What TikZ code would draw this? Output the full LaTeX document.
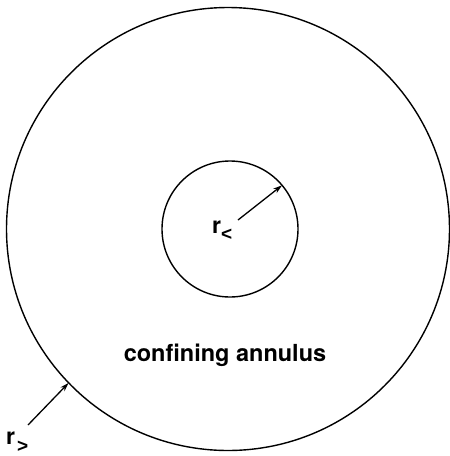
\documentclass[tikz,border=0pt]{standalone}
\usepackage{fontspec}
\setmainfont{TeX Gyre Heros}
\newfontfamily\relfont{Liberation Sans}
\usetikzlibrary{arrows.meta}

\begin{document}
\begin{tikzpicture}[x=1pt, y=-1pt, >={Stealth[length=9pt, width=5.5pt]}, line join=round,
    boundary/.style={draw, circle, line width=1.4pt, inner sep=0pt, outer sep=0pt},
    radiusarrow/.style={->, line width=1.3pt},
    rlabel/.style={inner sep=0pt, anchor=base west, font=\fontsize{23}{23}\selectfont\bfseries}]
    \useasboundingbox (0,0) rectangle (450,456);

    % --- Outer and inner boundaries of the annulus ---
    \node[boundary, minimum size=443pt] (outer) at (228,229) {};
    \node[boundary, minimum size=136pt] (inner) at (230,229) {};

    % --- Radius arrows ---
    \coordinate (rinstart) at (238,220);
    \draw[radiusarrow] (rinstart) -- (inner.40);
    \coordinate (routstart) at (28,425);
    \draw[radiusarrow] (routstart) -- (outer.224);

    % --- Labels ---
    \node[rlabel] (rin) at (212,233)
        {r\raisebox{-7pt}{\relfont\fontsize{19}{19}\selectfont <}};
    \node[rlabel] (rout) at (6,444)
        {r\hspace{2pt}\raisebox{-8.5pt}{\relfont\fontsize{19}{19}\selectfont >}};
    \node[inner sep=0pt, anchor=base, font=\fontsize{23.5}{23.5}\selectfont\bfseries]
        (annulus) at (225,361) {confining annulus};

\end{tikzpicture}
\end{document}
